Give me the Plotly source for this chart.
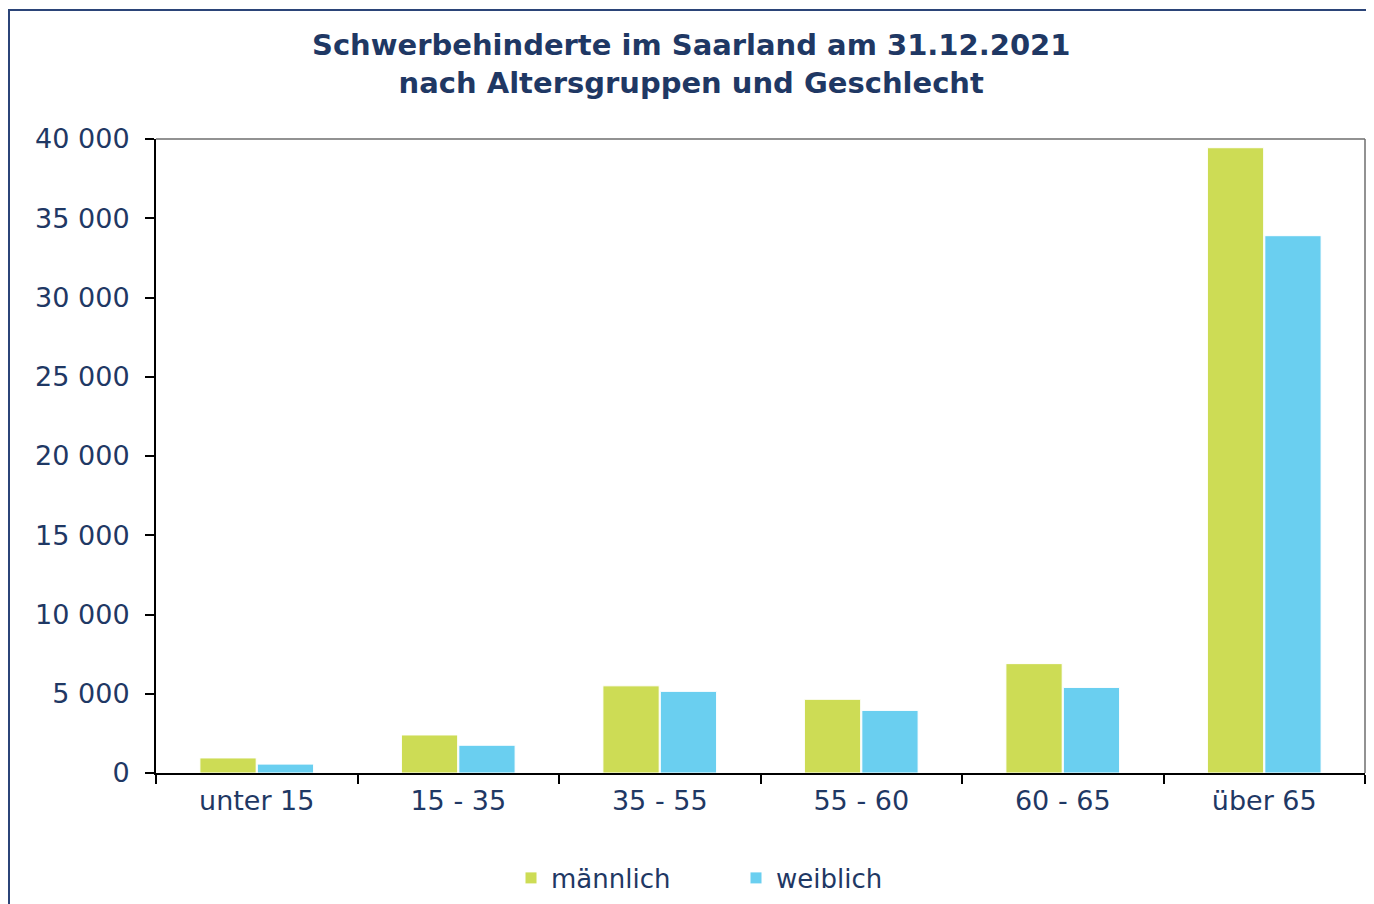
import plotly.graph_objects as go

categories = ["unter 15", "15 - 35", "35 - 55", "55 - 60", "60 - 65", "über 65"]
maennlich = [950, 2400, 5500, 4650, 6900, 39450]
weiblich = [560, 1750, 5150, 3950, 5400, 33900]
y_tickvals = [0, 5000, 10000, 15000, 20000, 25000, 30000, 35000, 40000]
y_ticktext = ["0", "5 000", "10 000", "15 000", "20 000", "25 000", "30 000", "35 000", "40 000"]

NAVY = "#1f3864"
FONT = "DejaVu Sans"

# figure is drawn with an 8px page margin offset
W, H = 1366, 896
L, R, T, B = 148, 9, 131, 131
PW, PH = W - L - R, H - T - B

def px_x(x):
    return (x - L) / PW

def px_y(y):
    return (H - B - y) / PH

fig = go.Figure()
fig.add_trace(go.Bar(x=categories, y=maennlich, name="männlich",
                     marker=dict(color="#cddc55", line=dict(color="white", width=1))))
fig.add_trace(go.Bar(x=categories, y=weiblich, name="weiblich",
                     marker=dict(color="#6acff0", line=dict(color="white", width=1))))

fig.update_layout(
    width=W, height=H,
    margin=dict(l=L, r=R, t=T, b=B, autoexpand=False),
    paper_bgcolor="white", plot_bgcolor="white",
    font=dict(family=FONT, color=NAVY, size=26),
    barmode="group", bargap=0.43, bargroupgap=0.02,
    showlegend=True,
    legend=dict(orientation="h", xref="container", yref="container",
                x=503 / W, xanchor="left", y=1 - 870 / H, yanchor="middle",
                font=dict(family=FONT, size=26, color=NAVY),
                entrywidth=180, entrywidthmode="pixels", itemwidth=30),
    xaxis=dict(showline=True, linecolor="black", linewidth=2, ticks="outside",
               tickson="boundaries", ticklen=9, tickwidth=2, tickcolor="black",
               ticklabelstandoff=3,
               showgrid=False, tickfont=dict(family=FONT, size=27, color=NAVY)),
    yaxis=dict(range=[0, 40000], tickvals=y_tickvals, ticktext=y_ticktext,
               showline=True, linecolor="black", linewidth=2, ticks="outside",
               ticklen=9, tickwidth=2, tickcolor="black", showgrid=False, zeroline=False,
               ticklabelstandoff=10,
               tickfont=dict(family=FONT, size=27, color=NAVY)),
    annotations=[
        dict(text="<b>Schwerbehinderte im Saarland am 31.12.2021<br>nach Altersgruppen und Geschlecht</b>",
             xref="paper", yref="paper", x=px_x(683), y=px_y(56),
             xanchor="center", yanchor="middle", showarrow=False, align="center",
             font=dict(family=FONT, size=29, color=NAVY)),
    ],
    shapes=[
        dict(type="line", xref="paper", yref="paper", x0=0, x1=1, y0=1, y1=1,
             line=dict(color="#6e6e6e", width=1.5)),
        dict(type="line", xref="paper", yref="paper", x0=1, x1=1, y0=0, y1=1,
             line=dict(color="#6e6e6e", width=1.5)),
        dict(type="rect", xref="paper", yref="paper",
             x0=px_x(1), x1=px_x(W + 20), y0=px_y(H + 20), y1=px_y(2),
             line=dict(color="#2b4478", width=2), fillcolor="rgba(0,0,0,0)", layer="below"),
    ],
)

fig.write_html("out.html")
